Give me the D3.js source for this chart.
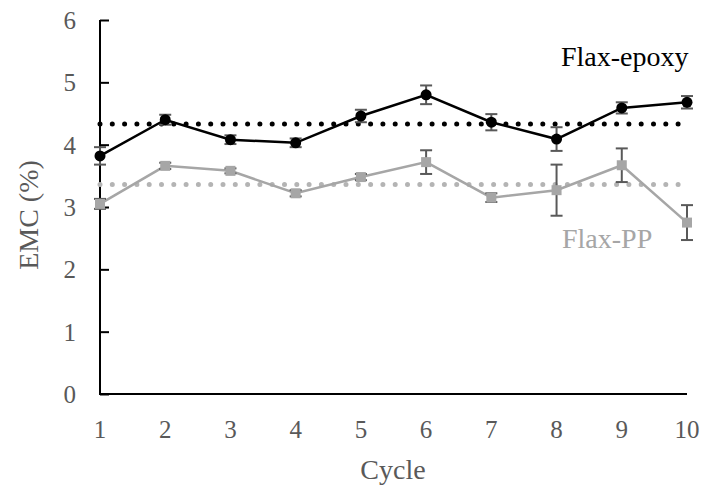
<!DOCTYPE html>
<html>
<head>
<meta charset="utf-8">
<script src="https://cdn.jsdelivr.net/npm/d3@7"></script>
<style>
body{margin:0;background:#fff}
</style>
</head>
<body>
<svg id="chart" width="703" height="487" font-family="'Liberation Serif', 'Times New Roman', 'DejaVu Serif', serif"></svg>
<script>
// cycles and values
var cycles=[1,2,3,4,5,6,7,8,9,10];
var epoxy=[3.82,4.40,4.08,4.03,4.46,4.80,4.36,4.09,4.59,4.68];
var epoxyErr=[0.14,0.08,0.07,0.07,0.10,0.15,0.13,0.19,0.09,0.10];
var pp=[3.05,3.66,3.58,3.22,3.48,3.72,3.15,3.27,3.67,2.75];
var ppErr=[0.08,0.05,0.04,0.05,0.05,0.19,0.07,0.41,0.27,0.28];
var epoxyMean=4.33, ppMean=3.36;
var yTicks=[0,1,2,3,4,5,6];

var svg=d3.select("#chart");
var x=d3.scaleLinear().domain([1,10]).range([100,687]);
var y=d3.scaleLinear().domain([0,6]).range([394,20]);

// y axis, ticks pointing inward
var yAx=svg.append("g").attr("transform","translate(100,0)")
  .call(d3.axisRight(y).tickValues(yTicks).tickSize(9).tickFormat(""));
yAx.select(".domain").remove();
yAx.selectAll("line").attr("stroke","#000").attr("stroke-width",2);
svg.append("line").attr("x1",100).attr("x2",100).attr("y1",y(6)).attr("y2",y(0)+1)
  .attr("stroke","#000").attr("stroke-width",2);
svg.append("line").attr("x1",99).attr("x2",x(10)).attr("y1",y(0)).attr("y2",y(0))
  .attr("stroke","#000").attr("stroke-width",2);

svg.selectAll(".ylab").data(yTicks).enter().append("text")
  .attr("x",76).attr("y",function(d){return y(d)+9;})
  .attr("text-anchor","end").attr("font-size",25).attr("fill","#595959")
  .text(function(d){return d;});
svg.selectAll(".xlab").data(cycles).enter().append("text")
  .attr("x",function(d){return x(d);}).attr("y",438)
  .attr("text-anchor","middle").attr("font-size",25).attr("fill","#595959")
  .text(function(d){return d;});

svg.append("text").attr("x",393).attr("y",479).attr("text-anchor","middle")
  .attr("font-size",28).attr("fill","#595959").text("Cycle");
svg.append("text").attr("transform","translate(38,215) rotate(-90)").attr("text-anchor","middle")
  .attr("font-size",28).attr("fill","#595959").text("EMC (%)");

// mean dotted lines
function meanLine(v,col){
  svg.append("line").attr("x1",x(1)).attr("x2",x(10)).attr("y1",y(v)).attr("y2",y(v))
    .attr("stroke",col).attr("stroke-width",5).attr("stroke-linecap","round")
    .attr("stroke-dasharray","0 12.3");
}
meanLine(epoxyMean,"#000");
meanLine(ppMean,"#B4B4B4");

var line=d3.line().x(function(d,i){return x(cycles[i]);}).y(function(d){return y(d);});

function series(vals,errs,col,shape){
  svg.append("path").datum(vals).attr("d",line).attr("fill","none")
    .attr("stroke",col).attr("stroke-width",2.5);
  var g=svg.append("g");
  vals.forEach(function(v,i){
    var cx=x(cycles[i]),t=y(v+errs[i]),b=y(v-errs[i]);
    g.append("line").attr("x1",cx).attr("x2",cx).attr("y1",t).attr("y2",b).attr("stroke","#595959").attr("stroke-width",2);
    g.append("line").attr("x1",cx-6).attr("x2",cx+6).attr("y1",t).attr("y2",t).attr("stroke","#595959").attr("stroke-width",2);
    g.append("line").attr("x1",cx-6).attr("x2",cx+6).attr("y1",b).attr("y2",b).attr("stroke","#595959").attr("stroke-width",2);
  });
  vals.forEach(function(v,i){
    if(shape=="circle"){
      svg.append("circle").attr("cx",x(cycles[i])).attr("cy",y(v)).attr("r",5.5).attr("fill",col);
    }else{
      svg.append("rect").attr("x",x(cycles[i])-5).attr("y",y(v)-5).attr("width",10).attr("height",10).attr("fill",col);
    }
  });
}
series(pp,ppErr,"#A6A6A6","square");
series(epoxy,epoxyErr,"#000","circle");

svg.append("text").attr("x",561).attr("y",66).attr("font-size",28).attr("fill","#000").text("Flax-epoxy");
svg.append("text").attr("x",562).attr("y",248).attr("font-size",28).attr("fill","#A6A6A6").text("Flax-PP");
</script>
</body>
</html>
